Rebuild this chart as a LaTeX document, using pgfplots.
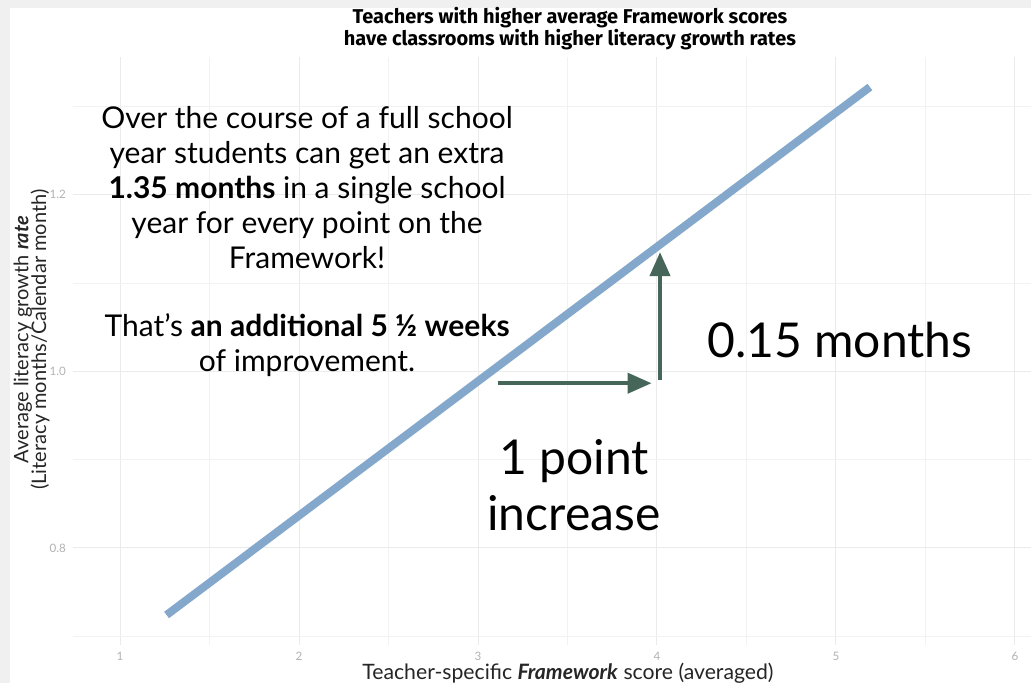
\documentclass[border=0pt]{standalone}
\usepackage{fontspec}
\setmainfont{Lato}
\newfontfamily\titlefont{Fira Sans}
\usepackage{pgfplots}
\pgfplotsset{compat=1.18}
\usetikzlibrary{arrows.meta}
\definecolor{fitline}{HTML}{84A7CC}
\definecolor{arrowgreen}{HTML}{46665A}
\definecolor{gridmaj}{HTML}{EBEBEB}
\definecolor{gridmin}{HTML}{F2F2F2}
\begin{document}
\begin{tikzpicture}
% 1 px of the reference = 0.5pt
\path[use as bounding box] (-36.5pt,-19pt) rectangle (479pt,322.5pt);
\fill[gray!12] (-36.5pt,-19pt) rectangle (479pt,322.5pt);
\fill[white] (-31.5pt,-19pt) rectangle (479pt,318.5pt);
\begin{axis}[
  scale only axis,
  width=479pt, height=294pt,
  xmin=0.737, xmax=6.09,
  ymin=0.69, ymax=1.356,
  axis line style={draw=none},
  major tick length=0pt, minor tick length=0pt,
  xtick={1,2,3,4,5,6},
  minor xtick={1.5,2.5,3.5,4.5,5.5},
  ytick={0.8,1.0,1.2},
  minor ytick={0.7,0.9,1.1,1.3},
  grid=both,
  major grid style={gridmaj, line width=0.5pt},
  minor grid style={gridmin, line width=0.4pt},
  ticklabel style={font=\fontsize{5.8}{6}\selectfont, text=gray!60},
  /pgf/number format/assume math mode=true,
  yticklabel style={/pgf/number format/fixed, /pgf/number format/fixed zerofill, /pgf/number format/precision=1},
  clip=false,
]
\addplot[fitline, line width=4pt, line cap=butt] coordinates {(1.26,0.724) (5.19,1.322)};

\addplot[arrowgreen, line width=2pt, -{Triangle[length=12pt,width=10pt]}] coordinates {(3.11,0.9865) (3.97,0.9865)};
\addplot[arrowgreen, line width=2pt, -{Triangle[length=12pt,width=10pt]}] coordinates {(4.017,0.99) (4.017,1.135)};

\node[align=center, font=\titlefont\bfseries\fontsize{10}{11}\selectfont] at (axis cs:3.514,1.3876)
  {Teachers with higher average Framework scores\\have classrooms with higher literacy growth rates};

\node[align=center, font=\fontsize{15}{17.5}\selectfont] at (axis cs:2.045,1.2085)
  {Over the course of a full school\\year students can get an extra\\\textbf{1.35 months} in a single school\\year for every point on the\\Framework!};
\node[align=center, font=\fontsize{15}{17.5}\selectfont] at (axis cs:2.045,1.030)
  {That's \textbf{an additional 5 ½ weeks}\\of improvement.};

\node[font=\fontsize{24}{28}\selectfont] at (axis cs:5.022,1.036) {0.15 months};
\node[align=center, font=\fontsize{24}{28}\selectfont] at (axis cs:3.536,0.871) {1 point\\increase};

\node[rotate=90, text=black!85, font=\fontsize{10}{11}\selectfont] at (axis cs:0.457,1.036)
  {Average literacy growth \textbf{\textit{rate}}};
\node[rotate=90, text=black!85, font=\fontsize{10}{11}\selectfont] at (axis cs:0.553,1.036)
  {(Literacy months/Calendar month)};
\node[text=black!85, font=\fontsize{10.6}{11}\selectfont] at (axis cs:3.503,0.6585)
  {Teacher-specific \textbf{\textit{Framework}} score (averaged)};
\end{axis}
\end{tikzpicture}
\end{document}
